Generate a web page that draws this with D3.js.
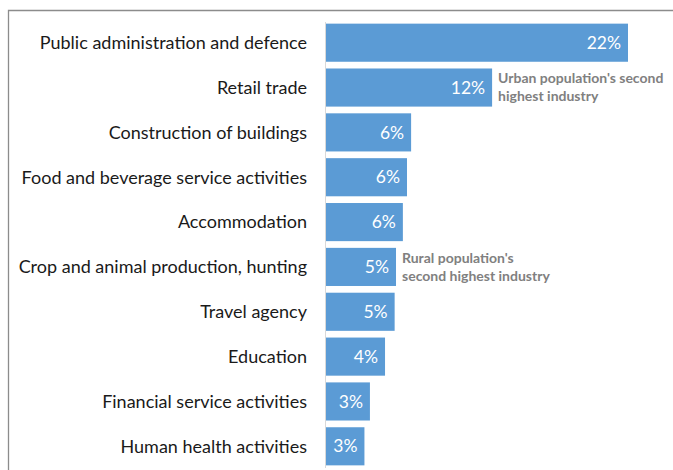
<!DOCTYPE html>
<html><head><meta charset="utf-8">
<script src="https://cdn.jsdelivr.net/npm/d3@7"></script>
<style>body{margin:0;background:#fff;}svg{display:block;}</style>
</head><body>
<script>
const categories = ["Public administration and defence","Retail trade","Construction of buildings","Food and beverage service activities","Accommodation","Crop and animal production, hunting","Travel agency","Education","Financial service activities","Human health activities"];
const values = [22.0, 12.1, 6.2, 5.9, 5.6, 5.1, 5.0, 4.3, 3.2, 2.8];
const valueLabels = ["22%","12%","6%","6%","6%","5%","5%","4%","3%","3%"];
const annotations = [
  {category: "Retail trade", lines: ["Urban population's second", "highest industry"]},
  {category: "Crop and animal production, hunting", lines: ["Rural population's", "second highest industry"]}
];

const W = 673, H = 470;
const svg = d3.select("body").append("svg").attr("width", W).attr("height", H);
const font = "Lato, 'Open Sans', sans-serif";

// frame
svg.append("path").attr("d", "M8.5,470 L8.5,10.5 L673,10.5").attr("fill","none").attr("stroke","#8c8c8c").attr("stroke-width",1.3);

const x0 = 326;
const x = d3.scaleLinear().domain([0, 22]).range([x0, 628]);
const y = d3.scaleBand().domain(categories).range([20.5, 468.5]).paddingInner(0.15).paddingOuter(0.07);

svg.selectAll("rect.bar").data(categories).enter().append("rect")
  .attr("class","bar")
  .attr("x", x0).attr("y", d => y(d))
  .attr("width", (d,i) => x(values[i]) - x0)
  .attr("height", y.bandwidth())
  .attr("fill", "#5B9BD5");

// axis line
svg.append("line").attr("x1", 325.5).attr("x2", 325.5).attr("y1", 22).attr("y2", 468).attr("stroke", "#d9d9d9").attr("stroke-width", 1);

// category labels
svg.selectAll("text.cat").data(categories).enter().append("text")
  .attr("x", 307).attr("y", d => y(d) + y.bandwidth()/2)
  .attr("dy", "0.35em").attr("text-anchor","end")
  .attr("font-family", font).attr("font-size", 18).attr("fill", "#1a1a1a")
  .text(d => d);

// value labels
svg.selectAll("text.val").data(categories).enter().append("text")
  .attr("x", (d,i) => x(values[i]) - 7).attr("y", d => y(d) + y.bandwidth()/2)
  .attr("dy", "0.35em").attr("text-anchor","end")
  .attr("font-family", font).attr("font-size", 17.5).attr("fill", "#ffffff")
  .text((d,i) => valueLabels[i]);

// annotations
annotations.forEach(a => {
  const i = categories.indexOf(a.category);
  const t = svg.append("text")
    .attr("x", x(values[i]) + 6)
    .attr("y", y(a.category) + y.bandwidth()/2 - 9)
    .attr("font-family", font).attr("font-size", 14).attr("font-weight", "bold").attr("fill", "#808080");
  a.lines.forEach((l, k) => {
    t.append("tspan").attr("x", x(values[i]) + 6).attr("dy", k === 0 ? "0.35em" : 18).text(l);
  });
});
</script>
</body></html>
